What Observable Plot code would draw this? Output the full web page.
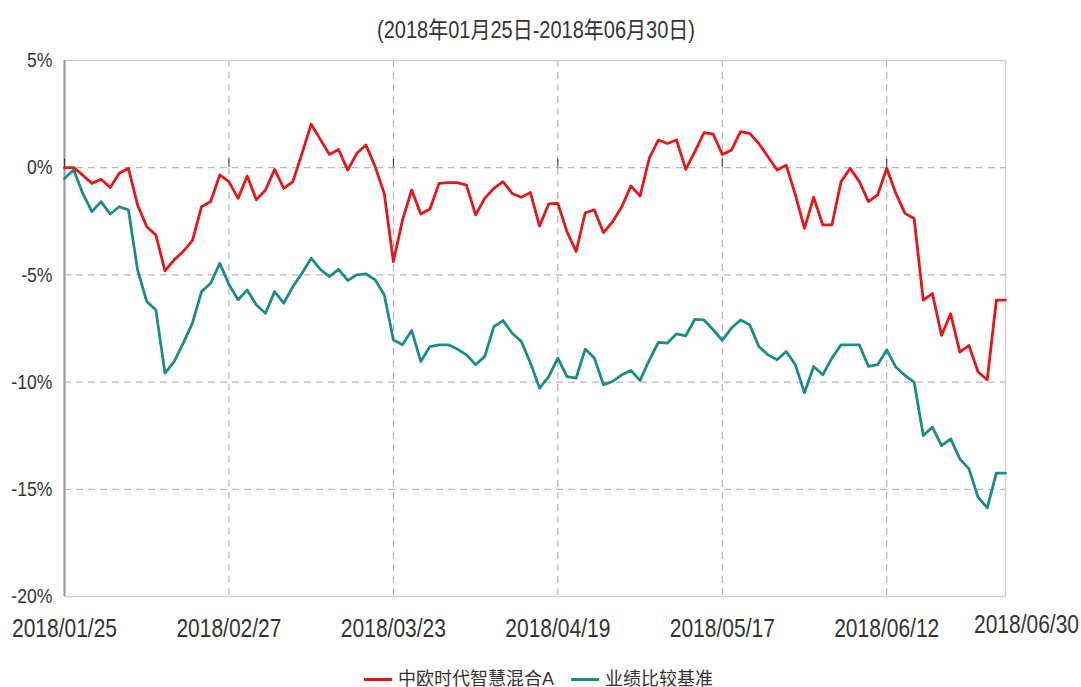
<!DOCTYPE html>
<html>
<head>
<meta charset="utf-8">
<script src="https://cdn.jsdelivr.net/npm/d3@7"></script>
<script src="https://cdn.jsdelivr.net/npm/@observablehq/plot@0.6"></script>
<style>
  html, body { margin: 0; padding: 0; background: #fff; }
  body { width: 1081px; height: 687px; position: relative; overflow: hidden;
         font-family: "Liberation Sans", Arial, "Noto Sans CJK SC", sans-serif; color: #333; }
  #title { position: absolute; top: 17px; left: 0; width: 1072px; text-align: center; font-size: 20px; line-height: 26px; transform: scaleY(1.15); }
  #chart { position: absolute; top: 45px; left: 0; }
  #legend { position: absolute; top: 666px; left: 364px; display: flex; align-items: center; font-size: 18px; line-height: 26px; white-space: nowrap; }
  .sw { display: inline-block; width: 28px; height: 3px; }
</style>
</head>
<body>
<div id="title">(2018年01月25日-2018年06月30日)</div>
<div id="chart"></div>
<div id="legend"></div>
<script>
// Series names and colours
const seriesNames = ["中欧时代智慧混合A", "业绩比较基准"];
const seriesColors = ["#e8161b", "#1c8c89"];

// Cumulative return (%) per trading day, 2018/01/25 .. 2018/06/30
const fundReturn = [
  0, 0, -0.35, -0.73, -0.54, -0.92, -0.26, -0.03, -1.74, -2.75,
  -3.14, -4.81, -4.3, -3.9, -3.4, -1.82, -1.58, -0.34, -0.65, -1.43,
  -0.39, -1.5, -1.04, -0.08, -0.96, -0.65, 0.67, 2.03, 1.32, 0.62,
  0.85, -0.11, 0.67, 1.06, 0.05, -1.2, -4.38, -2.44, -1.04, -2.16,
  -1.93, -0.73, -0.7, -0.7, -0.81, -2.2, -1.43, -0.96, -0.65, -1.2,
  -1.38, -1.16, -2.72, -1.69, -1.66, -2.98, -3.91, -2.1, -1.97, -3.03,
  -2.52, -1.82, -0.85, -1.32, 0.43, 1.29, 1.13, 1.29, -0.08, 0.75,
  1.63, 1.57, 0.62, 0.82, 1.68, 1.6, 1.13, 0.51, -0.11, 0.12,
  -1.27, -2.83, -1.38, -2.67, -2.67, -0.65, -0.03, -0.65, -1.58, -1.27,
  -0.03, -1.2, -2.13, -2.37, -6.18, -5.87, -7.82, -6.81, -8.6, -8.29,
  -9.53, -9.89, -6.18, -6.18
];
const benchReturn = [
  -0.5, -0.1, -1.2, -2.05, -1.58, -2.16, -1.82, -1.97, -4.77, -6.24,
  -6.63, -9.58, -9.04, -8.18, -7.25, -5.78, -5.39, -4.46, -5.45, -6.16,
  -5.7, -6.4, -6.79, -5.78, -6.32, -5.54, -4.92, -4.22, -4.74, -5.08,
  -4.74, -5.26, -5.0, -4.95, -5.23, -5.93, -8.03, -8.26, -7.59, -9.04,
  -8.34, -8.26, -8.26, -8.46, -8.73, -9.19, -8.8, -7.41, -7.13, -7.72,
  -8.1, -9.11, -10.28, -9.74, -8.88, -9.74, -9.81, -8.46, -8.88, -10.12,
  -9.97, -9.66, -9.46, -9.92, -8.99, -8.15, -8.18, -7.75, -7.84, -7.07,
  -7.1, -7.56, -8.05, -7.48, -7.1, -7.33, -8.34, -8.73, -8.96, -8.57,
  -9.19, -10.5, -9.27, -9.66, -8.88, -8.26, -8.26, -8.26, -9.27, -9.19,
  -8.5, -9.3, -9.69, -10.0, -12.49, -12.1, -12.96, -12.65, -13.58, -14.05,
  -15.37, -15.87, -14.25, -14.25
];

// Axis ticks
const xTickIndex = [0, 18, 36, 54, 72, 90, 103];
const xTickLabels = ["2018/01/25", "2018/02/27", "2018/03/23", "2018/04/19", "2018/05/17", "2018/06/12", "2018/06/30"];
const yTicks = [5, 0, -5, -10, -15, -20];

const rows = [
  ...fundReturn.map((v, i) => ({i, v, s: seriesNames[0]})),
  ...benchReturn.map((v, i) => ({i, v, s: seriesNames[1]}))
];
const lastIdx = fundReturn.length - 1;
const labelOf = d => xTickLabels[xTickIndex.indexOf(d)];

const chart = Plot.plot({
  width: 1081,
  height: 605,
  marginLeft: 64,
  marginRight: 76,
  marginTop: 15,
  marginBottom: 54,
  x: {domain: [0, lastIdx]},
  y: {domain: [-20, 5]},
  color: {domain: seriesNames, range: seriesColors},
  style: {fontFamily: '"Liberation Sans", Arial, sans-serif', color: "#333", background: "#fff", overflow: "visible"},
  marks: [
    Plot.gridY(yTicks.filter(t => t !== 5 && t !== -20), {stroke: "#a8a8a8", strokeOpacity: 1, strokeDasharray: "7,5"}),
    Plot.gridX(xTickIndex.slice(1, 6), {stroke: "#a8a8a8", strokeOpacity: 1, strokeDasharray: "7,5"}),
    Plot.frame({stroke: "#cfcfcf", strokeWidth: 1.5}),
    Plot.ruleX([0], {stroke: "#9a9a9a", strokeWidth: 2}),
    Plot.ruleX(xTickIndex.slice(0, 6), {y1: 0, y2: 0.4, stroke: "#333", strokeWidth: 1}),
    Plot.line(rows, {x: "i", y: "v", z: "s", stroke: "s", strokeWidth: 2.8, strokeLinejoin: "round"}),
    Plot.axisY(yTicks, {label: null, tickSize: 0, tickPadding: 12, fontSize: 21, tickFormat: d => d + "%"}),
    Plot.axisX(xTickIndex.slice(0, 6), {label: null, tickSize: 0, tickPadding: 24, fontSize: 21, tickFormat: labelOf}),
    Plot.axisX([xTickIndex[6]], {label: null, tickSize: 0, tickPadding: 20, fontSize: 21, dx: 21, tickFormat: labelOf})
  ]
});
document.getElementById("chart").appendChild(chart);

// Reference text is drawn in a condensed face: emulate by stretching (wrap so Plot's own transform stays intact)
function stretch(g, origin, t) {
  const w = document.createElementNS("http://www.w3.org/2000/svg", "g");
  g.parentNode.insertBefore(w, g);
  w.appendChild(g);
  w.style.transformBox = "fill-box";
  w.style.transformOrigin = origin;
  w.style.transform = t;
}
chart.querySelectorAll('g[aria-label="x-axis tick label"]').forEach(g => stretch(g, "center", "scaleY(1.2)"));
chart.querySelectorAll('g[aria-label="y-axis tick label"]').forEach(g => stretch(g, "right center", "scaleX(0.84)"));

const legend = document.getElementById("legend");
seriesNames.forEach((name, k) => {
  const sw = document.createElement("span");
  sw.className = "sw";
  sw.style.background = seriesColors[k];
  sw.style.marginRight = "6px";
  if (k > 0) sw.style.marginLeft = "17px";
  const tx = document.createElement("span");
  tx.textContent = name;
  legend.appendChild(sw);
  legend.appendChild(tx);
});
</script>
</body>
</html>
